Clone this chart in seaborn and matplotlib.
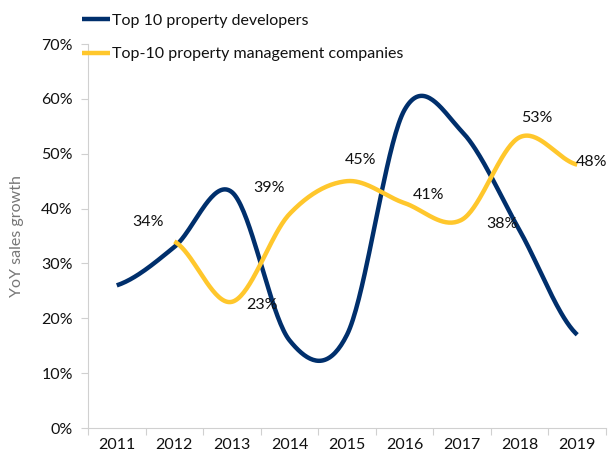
import numpy as np
import pandas as pd
import matplotlib
matplotlib.use("Agg")
import matplotlib.pyplot as plt
import seaborn as sns

years = ["2011", "2012", "2013", "2014", "2015", "2016", "2017", "2018", "2019"]
developers = [0.26, 0.33, 0.43, 0.16, 0.17, 0.58, 0.54, 0.36, 0.17]
mgmt_years = ["2012", "2013", "2014", "2015", "2016", "2017", "2018", "2019"]
management = [0.34, 0.23, 0.39, 0.45, 0.41, 0.38, 0.53, 0.48]
mgmt_labels = ["34%", "23%", "39%", "45%", "41%", "38%", "53%", "48%"]

NAVY = "#002F6C"
GOLD = "#FFC72C"

sns.set_theme(style="white")
plt.rcParams["font.family"] = ["Lato", "DejaVu Sans"]


def smooth(xs, ys, n=40):
    """Catmull-Rom style smoothing (like Excel smoothed line) for drawing."""
    xs = np.asarray(xs, float)
    ys = np.asarray(ys, float)
    px = np.concatenate([[2 * xs[0] - xs[1]], xs, [2 * xs[-1] - xs[-2]]])
    py = np.concatenate([[ys[0]], ys, [ys[-1]]])
    ox, oy = [], []
    t = np.linspace(0, 1, n)
    for i in range(1, len(px) - 2):
        p0, p1, p2, p3 = [np.array([px[j], py[j]]) for j in (i - 1, i, i + 1, i + 2)]
        c1 = p1 + (p2 - p0) / 6.0
        c2 = p2 - (p3 - p1) / 6.0
        for tt in t[:-1] if i < len(px) - 3 else t:
            b = ((1 - tt) ** 3) * p1 + 3 * ((1 - tt) ** 2) * tt * c1 + 3 * (1 - tt) * tt ** 2 * c2 + tt ** 3 * p2
            ox.append(b[0]); oy.append(b[1])
    return np.array(ox), np.array(oy)


xd = [years.index(y) for y in years]
xm = [years.index(y) for y in mgmt_years]
sx1, sy1 = smooth(xd, developers)
sx2, sy2 = smooth(xm, management)
df1 = pd.DataFrame({"x": sx1, "y": sy1})
df2 = pd.DataFrame({"x": sx2, "y": sy2})

fig = plt.figure(figsize=(6.16, 4.55), dpi=100)
ax = fig.add_axes([88 / 616, 1 - 428 / 455, (606 - 88) / 616, (428 - 44) / 455])

sns.lineplot(data=df1, x="x", y="y", color=NAVY, lw=3.2, sort=False, ax=ax,
             label="Top 10 property developers", solid_capstyle="butt")
sns.lineplot(data=df2, x="x", y="y", color=GOLD, lw=3.2, sort=False, ax=ax,
             label="Top-10 property management companies", solid_capstyle="butt")

# data labels for management series (offsets in points)
offsets = [(-19, 14), (22, -2), (-15, 19), (10, 15), (17, 6), (29, -3), (12, 14), (10, 2)]
for xi, yi, lab, (dx, dy) in zip(xm, management, mgmt_labels, offsets):
    ax.annotate(lab, (xi, yi), xytext=(dx, dy), textcoords="offset points",
                ha="center", va="center", fontsize=11.5, color="#111111")

ax.set_xlim(-0.5, len(years) - 0.5)
ax.set_ylim(0, 0.70)
ax.set_yticks(np.arange(0, 0.71, 0.10))
ax.set_yticklabels([f"{int(round(v * 100))}%" for v in np.arange(0, 0.71, 0.10)])
ax.set_xticks(range(len(years)))
ax.set_xticklabels(years)
ax.set_xticks(np.arange(-0.5, len(years), 1.0), minor=True)
ax.tick_params(axis="x", which="major", length=0, pad=7, labelsize=11.5, colors="#111111")
ax.tick_params(axis="x", which="minor", length=5, width=0.8, color="#d0d0d0", direction="out")
ax.tick_params(axis="y", which="major", length=5, width=0.8, color="#d0d0d0", direction="out",
               pad=6, labelsize=11.5, colors="#111111")
ax.tick_params(axis="x", which="minor", bottom=True)
ax.tick_params(axis="y", left=True)
ax.set_xlabel("")
ax.set_ylabel("YoY sales growth", color="#777777", fontsize=11.5, labelpad=12)

for s in ["top", "right"]:
    ax.spines[s].set_visible(False)
for s in ["left", "bottom"]:
    ax.spines[s].set_color("#d0d0d0")
    ax.spines[s].set_linewidth(0.8)
ax.grid(False)

leg = ax.legend(loc="upper left", bbox_to_anchor=(72 / 616, 1 - 4 / 455), bbox_transform=fig.transFigure,
                frameon=False, fontsize=11.5, handlelength=1.75, handletextpad=0.15,
                labelspacing=1.2, borderaxespad=0.2)
for t in leg.get_texts():
    t.set_color("#111111")

fig.savefig("out.png", dpi=100)
